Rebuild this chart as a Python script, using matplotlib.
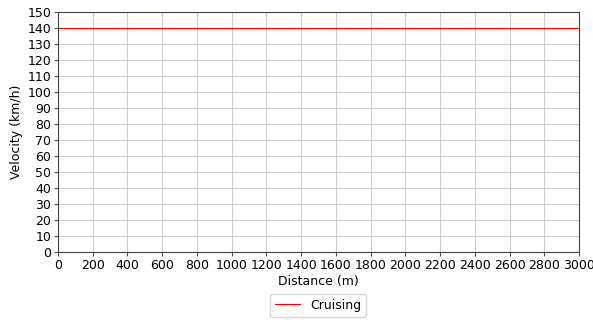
import numpy as np
import matplotlib
matplotlib.use("Agg")
import matplotlib.pyplot as plt

# cruising profile: constant speed over the whole track
distance = [0, 3000]
velocity = [140, 140]

fig = plt.figure(figsize=(5.93, 3.2), dpi=100)
ax = fig.add_axes([58 / 593, 1 - 252 / 320, 521 / 593, 240 / 320])

ax.plot(distance, velocity, color="red", linewidth=0.8, label="Cruising")

ax.set_xlim(0, 3000)
ax.set_ylim(0, 150)
ax.set_xticks(np.arange(0, 3001, 200))
ax.set_yticks(np.arange(0, 151, 10))
ax.tick_params(labelsize=9, length=3, pad=2, color="#555555")
ax.grid(True, color="#cccccc", linewidth=0.8)
ax.set_axisbelow(True)
for sp in ax.spines.values():
    sp.set_color("#444444")
ax.set_xlabel("Distance (m)", fontsize=9, labelpad=2)
ax.set_ylabel("Velocity (km/h)", fontsize=9, labelpad=3)

fig.legend(loc="center", bbox_to_anchor=(318 / 593, 1 - 305 / 320), fontsize=9)

fig.savefig("out.png", dpi=100)
